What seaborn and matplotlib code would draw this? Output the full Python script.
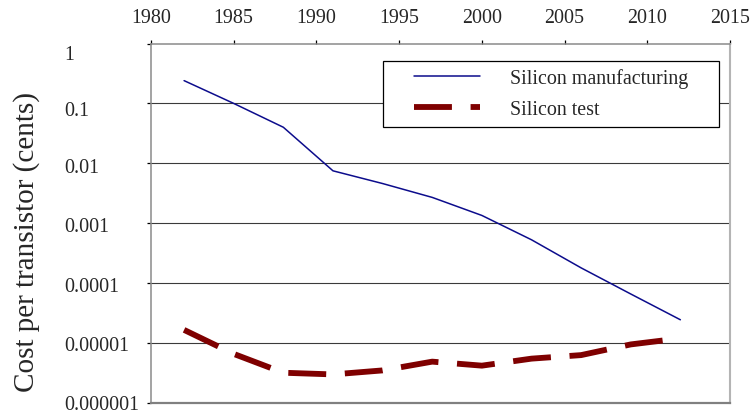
import matplotlib
matplotlib.use("Agg")
import matplotlib.pyplot as plt
from matplotlib.patches import Rectangle
from matplotlib.lines import Line2D
from matplotlib.transforms import ScaledTranslation
import numpy as np
import pandas as pd
import seaborn as sns

# Cost per transistor, in cents, sampled every three years
years = [1982, 1985, 1988, 1991, 1994, 1997, 2000, 2003, 2006, 2009, 2012]
manufacturing = [0.24, 0.10, 0.040, 0.0075, 0.0046, 0.0027, 0.00135,
                 0.00053, 0.00018, 0.000066, 0.0000245]
test = [0.0000166, 0.0000066, 0.0000032, 0.0000030, 0.0000035, 0.0000049,
        0.0000042, 0.0000055, 0.0000063, 0.0000095, 0.0000120]

series_names = ["Silicon manufacturing", "Silicon test"]
year_ticks = [1980, 1985, 1990, 1995, 2000, 2005, 2010, 2015]
cost_ticks = [1, 0.1, 0.01, 0.001, 0.0001, 0.00001, 0.000001]
cost_labels = ["1", "0.1", "0.01", "0.001", "0.0001", "0.00001", "0.000001"]
y_title = "Cost per transistor (cents)"

df = pd.concat([
    pd.DataFrame({"year": years, "cost": manufacturing, "series": series_names[0]}),
    pd.DataFrame({"year": years, "cost": test, "series": series_names[1]}),
])

sns.set_theme(style="white")
plt.rcParams["font.family"] = ["Liberation Serif", "DejaVu Serif"]
FS = 14.4

fig = plt.figure(figsize=(7.51, 4.14), dpi=100)
ax = fig.add_axes([151 / 751, 1 - 404 / 414, 579 / 751, 359.5 / 414])

colors = {series_names[0]: "#0c0c8c", series_names[1]: "#7f0000"}
widths = {series_names[0]: 1.1, series_names[1]: 4.2}
dashes = {series_names[0]: "", series_names[1]: (6.5, 3.2)}

sns.lineplot(data=df, x="year", y="cost", hue="series", style="series",
             size="series", palette=colors, sizes=widths, dashes=dashes,
             legend=False, ax=ax, zorder=4)

ax.set_yscale("log")
ax.set_xlim(1980, 2015)
ax.set_ylim(1e-6, 1)

# top x axis
ax.xaxis.tick_top()
ax.set_xticks(year_ticks)
ax.set_xticklabels([str(y) for y in year_ticks], fontsize=FS)
ax.tick_params(axis="x", which="major", direction="out", length=3, width=0.9,
               color="black", pad=9, top=True, bottom=False)
ax.set_xlabel("")

# left y axis with left-aligned labels
ax.set_yticks(cost_ticks)
ax.set_yticklabels(cost_labels, fontsize=FS)
ax.yaxis.set_minor_locator(matplotlib.ticker.NullLocator())
ax.tick_params(axis="y", which="major", direction="out", length=3, width=0.9,
               color="black", pad=59.5, left=True)
# labels sit slightly below their gridlines toward the top of the axis
label_drop_px = [8, 5, 2, 1, 1, 0, -1]
for tick, drop in zip(ax.yaxis.get_major_ticks(), label_drop_px):
    tick.label1.set_horizontalalignment("left")
    tick.label1.set_transform(tick.label1.get_transform() +
                              ScaledTranslation(0, -drop / 100, fig.dpi_scale_trans))

ax.set_ylabel(y_title, fontsize=21)
ax.yaxis.set_label_coords(-0.1915, 0.45)

# horizontal grid at each decade
ax.grid(False)
for v in cost_ticks[1:-1]:
    ax.axhline(v, color="#3a3a3a", lw=0.8, zorder=1)

for side, col, lw in [("left", "#8a8a8a", 1.1), ("top", "#8a8a8a", 1.1),
                      ("right", "#b4b4b4", 1.5), ("bottom", "#808080", 1.6)]:
    ax.spines[side].set_visible(True)
    ax.spines[side].set_color(col)
    ax.spines[side].set_linewidth(lw)

# legend box
x0, x1 = (383 - 151) / 579, (719 - 151) / 579
y0, y1 = (404 - 128) / 359.5, (404 - 62) / 359.5
ax.add_patch(Rectangle((x0, y0), x1 - x0, y1 - y0, transform=ax.transAxes,
                       facecolor="white", edgecolor="black", lw=0.9, zorder=5))
handles = [Line2D([], [], color=colors[n], lw=widths[n],
                  dashes=dashes[n] if dashes[n] else (None, None)) for n in series_names]
handles[0].set_linestyle("-")
leg = ax.legend(handles, series_names, loc="center",
                bbox_to_anchor=((x0 + x1) / 2, (y0 + y1) / 2),
                frameon=False, fontsize=FS, handlelength=3.3, handletextpad=1.5,
                labelspacing=0.6, borderpad=0.2)
leg.set_zorder(6)

fig.savefig("out.png", dpi=100)
